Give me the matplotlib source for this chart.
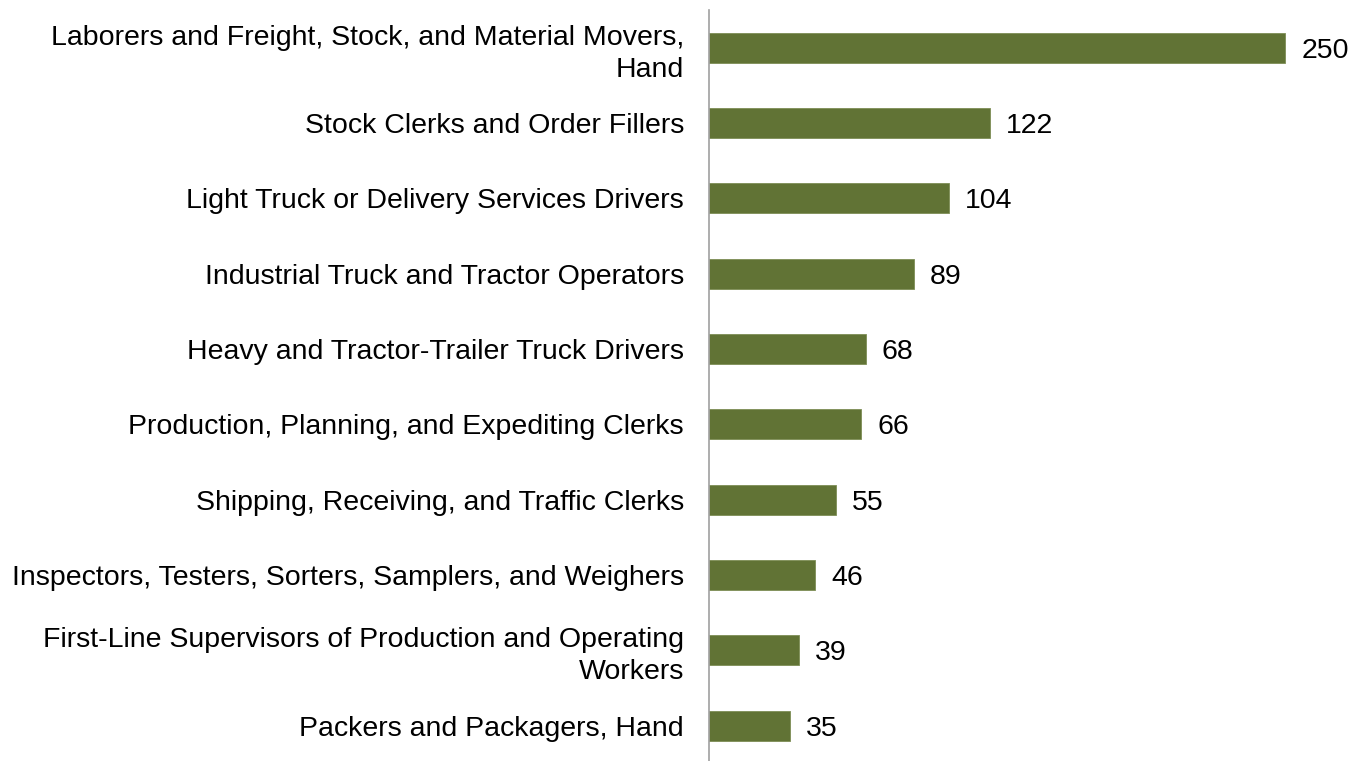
import matplotlib
matplotlib.use("Agg")
import matplotlib.pyplot as plt

plt.rcParams['font.family'] = ['Liberation Sans', 'DejaVu Sans']

occupations = [
    "Laborers and Freight, Stock, and Material Movers,\nHand",
    "Stock Clerks and Order Fillers",
    "Light Truck or Delivery Services Drivers",
    "Industrial Truck and Tractor Operators",
    "Heavy and Tractor-Trailer Truck Drivers",
    "Production, Planning, and Expediting Clerks",
    "Shipping, Receiving, and Traffic Clerks",
    "Inspectors, Testers, Sorters, Samplers, and Weighers",
    "First-Line Supervisors of Production and Operating\nWorkers",
    "Packers and Packagers, Hand",
]
counts = [250, 122, 104, 89, 68, 66, 55, 46, 39, 35]

bar_color = "#617335"

fig = plt.figure(figsize=(13.62, 7.61), dpi=100)
ax = fig.add_axes([709 / 1362, 0.0, 1 - 709 / 1362, 1 - 10 / 761])

y = list(range(len(counts)))[::-1]
ax.barh(y, counts, height=0.4, color=bar_color, edgecolor="#7d8e55", linewidth=0.6)

for yi, c in zip(y, counts):
    ax.text(c + 7, yi, str(c), va="center_baseline", ha="left", fontsize=20.5)

ax.set_yticks(y)
ax.set_yticklabels(occupations, fontsize=20.5, linespacing=1.3)
ax.tick_params(axis="y", length=0, pad=18)
ax.set_xticks([])
ax.set_xlim(0, 653 / 2.304)
ax.set_ylim(-0.47, 9.5)

for s in ["top", "right", "bottom"]:
    ax.spines[s].set_visible(False)
ax.spines["left"].set_color("#a0a0a0")
ax.spines["left"].set_linewidth(1.2)

fig.savefig("out.png", dpi=100)
